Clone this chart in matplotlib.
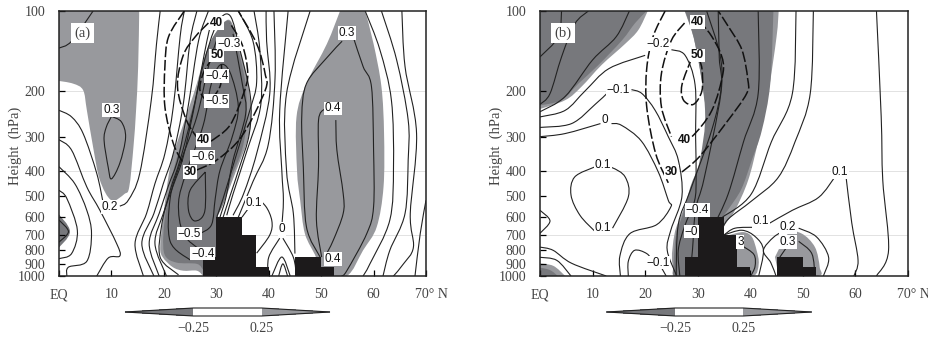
import numpy as np
import matplotlib
matplotlib.use('Agg')
import matplotlib.pyplot as plt
import matplotlib.ticker
import matplotlib.transforms as mtrans
from matplotlib.path import Path
from matplotlib.patches import PathPatch
from matplotlib.colors import ListedColormap, BoundaryNorm
from matplotlib.cm import ScalarMappable

plt.rcParams['font.family'] = ['Liberation Serif', 'DejaVu Serif']

LIGHT = '#98999d'
DARK = '#77787c'
INK = '#222222'
TXT = '#444444'

lat_ticks = [0, 10, 20, 30, 40, 50, 60, 70]
lat_labels = ['EQ', '10', '20', '30', '40', '50', '60', '70° N']
p_ticks = [100, 200, 300, 400, 500, 600, 700, 800, 900, 1000]
cbar_labels = ['\u22120.25', '0.25']

# terrain blocks, latitude of left edge and top pressure
terrain_lat = [27.5, 30, 32.5, 35, 37.5, 45, 47.5, 50]
terrain_top = [850, 600, 600, 700, 925, 850, 850, 925]

# ---- panel a, (lat, hPa)
a_light = [
    ([(15.3, 100), (15.1, 162), (14.7, 237), (14.2, 326), (13.4, 461), (12.5, 490), (10, 518),
      (7.8, 435), (6.5, 326), (5.3, 236), (4.6, 199), (2.7, 188), (-0.5, 183)], [(-0.5, 100)]),
    ([(27.5, 1000), (26.3, 955), (23.7, 955), (21.7, 926), (19.8, 850), (19.3, 780), (19.8, 615),
      (21.2, 387), (23.1, 290), (25.7, 205), (28.0, 145), (30, 120), (32.5, 108), (34, 130), (36, 185),
      (36.6, 255), (35.9, 310), (33.6, 410), (31.6, 518), (30.1, 598)], [(31, 850)]),
    ([(53.6, 100), (51.1, 133), (47.2, 188), (45.3, 251), (45.4, 400), (46, 518), (46.9, 692), (49, 848),
      (50, 1000), (54.9, 1000), (58, 800), (60.6, 653), (61.9, 461), (62, 290), (61.5, 193),
      (60, 133), (58.4, 100)], []),
]
a_dark = [
    ([(-0.5, 570), (2.1, 680), (-0.5, 800)], []),
    ([(27.5, 950), (26.3, 900), (22.4, 890), (20.2, 835), (19.9, 700), (20.6, 530), (22, 387), (24, 285),
      (26.3, 205), (28, 145), (30, 120), (32.5, 109), (34, 135), (35.6, 190), (35.7, 270), (34.8, 340),
      (33, 420), (31.4, 530), (30.3, 590)], [(31, 850)]),
]
a_lines = [
    [(6.5, 100), (2.4, 130), (0, 138)],
    [(10, 250), (9, 275), (8.6, 308), (9.4, 390), (10, 430), (11.6, 375), (12.7, 300), (11.9, 262), (10, 250)],
    [(0, 237), (2.4, 251), (4.6, 290), (7.2, 410), (8.5, 540)],
    [(11.6, 545), (13.2, 518), (15.4, 410), (17.6, 217), (18.6, 133), (19.3, 100)],
    [(0, 306), (2.4, 335), (5.3, 461), (7.8, 565), (11, 755), (11.6, 840), (9.4, 855), (7.2, 1000)],
    [(0, 387), (3, 448), (5.3, 565), (6.2, 692), (5.3, 880), (1.8, 926), (1.5, 1000)],
    [(0, 475), (1.5, 510), (3.5, 672), (2.4, 823), (0, 860)],
    [(0, 615), (1.8, 680), (0, 745)],
    [(16.1, 1000), (14.5, 755), (16.7, 581), (18.3, 448), (20.2, 345), (21.8, 230), (23.1, 125), (23.9, 100)],
    [(18.1, 1000), (15.8, 755), (18.1, 581), (19.9, 448), (21.8, 345), (23.7, 225), (25, 130), (26.3, 100)],
    [(19.1, 1000), (17.2, 755), (19.1, 581), (20.9, 455), (22.8, 355), (24.7, 225), (26.6, 130), (28.5, 100)],
    [(20.5, 1000), (18.3, 755), (19.9, 581), (21.8, 455), (23.7, 355), (25.9, 225), (28.2, 130), (29.4, 105)],
    [(22.8, 990), (19.3, 850), (19.6, 640), (21.2, 475), (23.1, 365), (25.3, 250), (27.5, 160), (30.1, 112),
     (32.6, 104), (34.5, 140), (36.5, 210), (36.3, 290), (34.4, 390), (32.6, 500), (31.3, 600)],
    [(25, 870), (21.2, 740), (21.2, 510), (23.1, 376), (26.3, 250), (28.5, 162), (30.1, 128)],
    [(33.2, 122), (35, 190), (35.6, 245), (33.2, 365), (31.9, 500), (30.7, 600)],
    [(27, 800), (23.7, 692), (22.8, 530), (24.3, 405), (27.5, 270), (29, 190), (30.7, 160), (32.6, 170),
     (34.2, 230), (33, 300), (30.7, 400), (29.8, 510), (29.1, 640), (26.9, 692)],
    [(27.9, 405), (25, 475), (24.7, 565), (25.9, 620), (27.8, 570), (27.9, 405)],
    [(30.1, 598), (31.3, 510), (33.9, 345), (36.4, 237), (37.7, 185), (37, 130), (34.2, 100)],
    [(32, 590), (33.2, 490), (36, 330), (38.5, 225), (38.3, 140), (37.2, 100)],
    [(33.2, 590), (35.2, 490), (37.7, 345), (40.2, 205), (39.6, 130), (39.5, 100)],
    [(34.2, 600), (37, 440), (39.9, 320), (41.2, 180), (41, 100)],
    [(34.9, 600), (37.5, 520), (39.4, 545), (40.6, 620), (40.2, 700), (37.7, 820)],
    [(43.7, 100), (42.1, 237), (42.5, 400), (42.8, 518), (42.5, 650)],
    [(47.9, 100), (43.4, 205), (43.4, 400), (44.7, 581), (45, 823)],
    [(42.1, 720), (40, 850), (39.9, 1000)],
    [(42.7, 720), (44.7, 850), (45.3, 1000)],
    [(40.6, 1000), (42.5, 848), (44.1, 1000)],
    [(41.9, 1000), (42.7, 900), (43.6, 1000)],
    [(54, 130), (51.1, 150), (47.2, 188), (46.3, 251), (46.6, 387), (47.2, 653), (49.8, 848)],
    [(56.1, 125), (58, 162), (59.6, 193), (60, 335), (60, 548), (58.7, 692), (54.9, 955), (53.9, 1000)],
    [(50.5, 235), (49.5, 258), (49.5, 387), (49.1, 615), (50.1, 848)],
    [(52.8, 258), (53, 335), (54.2, 488), (54.2, 581), (52.3, 734), (50.7, 848)],
    [(58.4, 100), (61.2, 140), (63.4, 217), (63.8, 387), (63.1, 615), (59.3, 900), (58, 1000)],
    [(61.5, 100), (64.4, 153), (66.6, 258), (66.6, 365), (66, 581), (63.1, 800), (61.8, 1000)],
    [(65.4, 100), (66, 162), (68.2, 290), (67, 581), (67.6, 778), (65.7, 900), (63.8, 1000)],
    [(70, 518), (68.9, 692), (67.9, 1000)],
]
a_dash = [
    [(23.9, 100), (20.9, 125), (20.2, 162), (20.2, 230), (21.8, 316), (23.7, 376)],
    [(26.3, 398), (30.1, 365), (34.8, 298), (39.3, 200), (39.3, 172), (37.7, 133), (34.2, 100)],
    [(28.5, 111), (26, 125), (23.7, 147), (22.6, 193), (24.3, 258), (26.6, 306)],
    [(29, 310), (32.6, 270), (35.2, 205), (36, 172), (35, 135), (32.6, 111)],
    [(29.4, 149), (27.5, 172), (26.9, 200), (28.5, 217), (30.7, 193), (31.0, 162), (30.7, 149)],
]
a_text = [
    (10, 237, '0.3', False), (9.7, 548, '0.2', False), (32.4, 133, '\u22120.3', False),
    (30.1, 147, '50', True), (30.1, 111, '40', True), (30.1, 176, '\u22120.4', False),
    (30.1, 219, '\u22120.5', False), (27.5, 306, '40', True), (27.4, 355, '\u22120.6', False),
    (25, 405, '30', True), (24.9, 692, '\u22120.5', False), (27.4, 823, '\u22120.4', False),
    (37.2, 530, '0.1', False), (42.5, 665, '0', False), (54.9, 121, '0.3', False),
    (52.3, 233, '0.4', False), (52.3, 865, '0.4', False),
]

# ---- panel b
b_light = [
    ([(-0.5, 236), (4.8, 217), (7.9, 193), (11.7, 160), (16.2, 133), (18.7, 118), (20.5, 100)], [(-0.5, 100)]),
    ([(45.4, 100), (45, 125), (43.4, 205), (41.5, 310), (39.6, 435), (37.1, 565), (35.0, 650), (32, 850),
      (27.5, 1000), (25.2, 900), (25.6, 692), (27, 581), (28.9, 461), (30.8, 376), (31.5, 237), (29.5, 133),
      (27.5, 100)], []),
    ([(36, 700), (38.7, 683), (40.3, 712), (41.2, 800), (41.6, 900), (40.6, 1000), (36, 1000)], []),
    ([(44.7, 848), (47.2, 692), (49.8, 692), (52.3, 778), (53.2, 926), (52.9, 1000), (45.4, 1000)], []),
    ([(-0.5, 895), (2.5, 915), (4.8, 1000)], [(-0.5, 1000)]),
]
b_dark = [
    ([(-0.5, 228), (4.1, 217), (7.3, 188), (11.1, 160), (15.6, 129), (18.1, 111), (20.3, 100)], [(-0.5, 100)]),
    ([(44.4, 100), (43.8, 188), (42.2, 282), (40.3, 365), (38.3, 470), (35.7, 565), (33.6, 650), (32, 850),
      (27.5, 1000), (25.4, 1000), (25.4, 900), (25.9, 692), (27, 598), (28.6, 461), (30.4, 365), (31.4, 237),
      (29.5, 133), (27.6, 100)], []),
    ([(-0.5, 925), (1.9, 950), (3.4, 1000)], [(-0.5, 1000)]),
]
b_lines = [
    [(4.1, 100), (3.5, 125), (0, 149)],
    [(9.2, 100), (6.6, 112), (4.1, 149), (1.9, 205), (0, 225)],
    [(17, 100), (14.5, 125), (10, 153), (4.8, 210), (0, 240)],
    [(0, 251), (4.8, 237), (8.6, 200), (13.1, 165), (20.0, 147)],
    [(0, 275), (6, 266), (10.5, 225), (12.7, 205)],
    [(17.4, 198), (19.4, 205), (21.9, 237), (24.4, 298), (26.3, 365), (27, 500), (24.9, 670), (24.2, 800), (26, 1000)],
    [(0, 298), (4.8, 290), (11.5, 266)],
    [(13.6, 266), (15.5, 270), (19.3, 310), (22.5, 405), (24.4, 518), (24.9, 548), (22.2, 640), (17.1, 692), (15.2, 840), (15.3, 1000)],
    [(21.7, 890), (20.3, 823), (18, 800), (16.8, 880), (16.8, 1000)],
    [(22.9, 915), (24, 1000)],
    [(10.5, 387), (6.6, 423), (5.9, 495), (7.6, 590), (10.5, 680)],
    [(13.8, 660), (16.8, 503), (16.2, 423), (13.7, 390), (11.5, 385)],
    [(0, 565), (1.9, 620), (0, 690)],
    [(0, 778), (2.5, 800), (6, 895), (12.6, 1000)],
    [(0, 850), (3.2, 873), (5.9, 1000)],
    [(25, 140), (27.6, 147), (29.5, 190), (29.6, 300), (29.7, 423), (29.4, 520), (27.5, 650), (26.3, 800), (26.6, 1000)],
    [(31.7, 100), (34.2, 145), (34.5, 193), (32.7, 280), (28.6, 475), (26.3, 640), (25.9, 1000)],
    [(33.9, 100), (34.1, 150), (34.4, 205), (31.2, 430), (29.6, 560), (29, 800), (28.5, 1000)],
    [(41.5, 100), (41.5, 205), (38.7, 312), (35.8, 490), (33, 650)],
    [(48.7, 100), (48, 205), (44, 312), (40.2, 490), (34.7, 600)],
    [(52, 100), (51.4, 205), (48.5, 312), (45.3, 425), (40.3, 520), (35.8, 610), (34.5, 680)],
    [(41, 655), (37.1, 660), (35, 700)],
    [(56.2, 420), (53, 505), (48, 565), (43.5, 635)],
    [(35, 700), (38.4, 672), (41, 712), (42.5, 800), (41.6, 1000)],
    [(46.8, 670), (44.5, 712), (42.5, 800), (43.9, 890), (44.9, 1000)],
    [(49.2, 660), (52.6, 712), (54.9, 850), (53.9, 1000)],
    [(47.8, 735), (45.6, 850)],
    [(49.2, 740), (51.7, 823), (52.3, 1000)],
    [(38.5, 770), (40.7, 830), (40.9, 920), (40.1, 1000)],
    [(64, 100), (64.9, 250), (65.2, 435), (66.3, 800), (64, 1000)],
    [(58.2, 420), (59.3, 630), (60.5, 873), (59.7, 1000)],
]
b_dash = [
    [(23.8, 100), (21.5, 125), (20.3, 165), (20.3, 230), (22, 345), (24.4, 445)],
    [(27, 405), (30.3, 355), (35.3, 266), (39.3, 205), (39.5, 180), (38.4, 140), (35.9, 115), (33.9, 100)],
    [(27.5, 111), (25, 129), (23.1, 172), (23.1, 230), (25, 298)],
    [(26.6, 310), (28.9, 298), (32.7, 237), (34.8, 172), (34.5, 147), (32.7, 125), (31.0, 113)],
    [(28.9, 150), (27, 190), (27.3, 217), (29.2, 225), (30.8, 200), (30.8, 165), (30.1, 150)],
]
b_text = [
    (22.4, 133, '\u22120.2', False), (14.9, 198, '\u22120.1', False), (12.4, 258, '0', False),
    (12.0, 380, '0.1', False), (12.0, 660, '0.1', False), (22.4, 890, '\u22120.1', False),
    (29.9, 565, '\u22120.4', False), (28.8, 680, '\u22120', False), (38.1, 745, '3', False),
    (42, 622, '0.1', False), (47.1, 655, '0.2', False), (47.1, 745, '0.3', False),
    (57.1, 405, '0.1', False), (29.9, 110, '40', True), (30, 147, '50', True),
    (27.4, 306, '40', True), (25, 405, '30', True),
]


def curve(pts, corners=()):
    # smooth curve through the read points, bezier in lat / log p
    xy = np.array([(x, np.log10(y)) for x, y in pts], float)
    n = len(xy)
    verts = [xy[0]]
    codes = [Path.MOVETO]
    for i in range(n - 1):
        p0 = xy[max(i - 1, 0)]
        p1 = xy[i]
        p2 = xy[i + 1]
        p3 = xy[min(i + 2, n - 1)]
        verts += [p1 + (p2 - p0) / 6, p2 - (p3 - p1) / 6, p2]
        codes += [Path.CURVE4] * 3
    for x, y in corners:
        verts.append(np.array([x, np.log10(y)]))
        codes.append(Path.LINETO)
    verts = np.array(verts)
    verts[:, 1] = 10 ** verts[:, 1]
    return verts, codes


def panel(ax, light, dark, lines, dash, text, tag, tag_lat):
    ax.set_yscale('log')
    ax.set_xlim(0, 70)
    ax.set_ylim(1000, 100)
    for pts, corners in light:
        v, c = curve(pts, corners)
        ax.add_patch(PathPatch(Path(v, c), fc=LIGHT, ec='none', zorder=1))
    for pts, corners in dark:
        v, c = curve(pts, corners)
        ax.add_patch(PathPatch(Path(v, c), fc=DARK, ec='none', zorder=1.5))
    for p in [200, 400, 700]:
        ax.axhline(p, color='#e2e2e2', lw=0.7, zorder=0.5)
    for pts in lines:
        v, c = curve(pts)
        ax.add_patch(PathPatch(Path(v, c), fc='none', ec=INK, lw=0.8, zorder=3))
    for pts in dash:
        v, c = curve(pts)
        ax.add_patch(PathPatch(Path(v, c), fc='none', ec='#111111', lw=1.1, ls=(0, (7, 1.8)), zorder=4))
    ax.bar(terrain_lat, [1000 - t for t in terrain_top], width=2.5, bottom=terrain_top, align='edge',
           color='#1c1a1b', zorder=5)
    for la, p, s, bold in text:
        ax.text(la, p, s, ha='center', va='center', fontsize=8.5, family=['Liberation Sans', 'DejaVu Sans'],
                fontweight='bold' if bold else 'normal', color='#111111', zorder=6,
                bbox=dict(fc='white', ec='none', pad=0.6))
    ax.text(tag_lat, 121, tag, ha='center', va='center', fontsize=10.5, color=TXT, zorder=6,
            bbox=dict(fc='white', ec='none', pad=2.5))
    ax.set_xticks(lat_ticks)
    ax.set_xticklabels(lat_labels)
    ax.set_yticks(p_ticks)
    ax.set_yticklabels([str(p) for p in p_ticks])
    ax.yaxis.set_minor_locator(matplotlib.ticker.NullLocator())
    ax.tick_params(direction='in', length=4, width=0.9, labelsize=10, labelcolor=TXT)
    ax.tick_params(axis='x', pad=9)
    ax.tick_params(axis='y', pad=10)
    last = ax.get_xticklabels()[-1]
    last.set_transform(last.get_transform() + mtrans.ScaledTranslation(5 / 100, 0, ax.figure.dpi_scale_trans))
    ax.set_ylabel('Height  (hPa)', fontsize=10.5, color=TXT)
    ax.yaxis.set_label_coords(-37 / 367, 0.49)
    for s in ax.spines.values():
        s.set_linewidth(1.1)
        s.set_color('#222222')


def cbar(fig, left, width):
    # width is the whole bar with both triangles, the box takes the middle third
    cax = fig.add_axes([left / 929, 1 - 316 / 339, width / 929, 8 / 339])
    cmap = ListedColormap(['white'])
    cmap.set_under(DARK)
    cmap.set_over(LIGHT)
    norm = BoundaryNorm([-0.25, 0.25], 1)
    cb = fig.colorbar(ScalarMappable(norm=norm, cmap=cmap), cax=cax, orientation='horizontal',
                      extend='both', extendfrac=1.0, spacing='uniform')
    cb.set_ticks([-0.25, 0.25])
    cb.set_ticklabels(cbar_labels)
    cb.ax.tick_params(length=0, labelsize=10, labelcolor=TXT, pad=4)
    cb.outline.set_linewidth(0.8)
    cb.outline.set_edgecolor('#222222')


fig = plt.figure(figsize=(9.29, 3.39), dpi=100)
ax1 = fig.add_axes([59 / 929, 1 - 276 / 339, 367 / 929, 265 / 339])
ax2 = fig.add_axes([540 / 929, 1 - 276 / 339, 368 / 929, 265 / 339])
panel(ax1, a_light, a_dark, a_lines, a_dash, a_text, '(a)', 4.5)
panel(ax2, b_light, b_dark, b_lines, b_dash, b_text, '(b)', 4.4)
cbar(fig, 125, 205)
cbar(fig, 606.7, 205)
fig.savefig('out.png', dpi=100)
